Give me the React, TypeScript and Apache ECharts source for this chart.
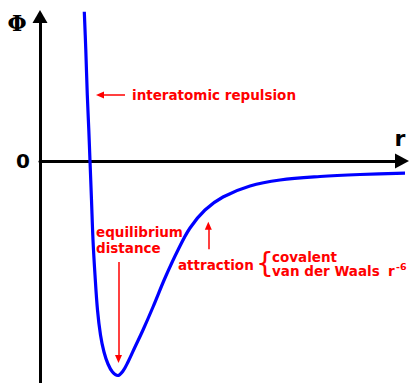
import React, { useEffect, useRef } from "react";
import * as echarts from "echarts";

// Potential curve Φ(r) (r and Φ in arbitrary units)
const rValues = [0.443, 0.458, 0.473, 0.488, 0.5, 0.515, 0.53, 0.55, 0.575, 0.605, 0.64, 0.68, 0.725, 0.777, 0.83, 0.88, 0.95, 1.03, 1.13, 1.25, 1.38, 1.5, 1.65, 1.83, 2.1, 2.4, 2.8, 3.2, 3.69];
const phiValues = [1.493, 1.11, 0.66, 0.31, 0, -0.39, -0.79, -1.14, -1.49, -1.74, -1.91, -2.03, -2.11, -2.145, -2.1, -2.01, -1.86, -1.69, -1.46, -1.17, -0.89, -0.67, -0.49, -0.36, -0.25, -0.19, -0.155, -0.135, -0.12];

// Annotation arrows [fromR, fromPhi, toR, toPhi]
const arrowRepulsion = [0.85, 0.66, 0.6, 0.66];
const arrowEquilibrium = [0.785, -1.01, 0.785, -1.98];
const arrowAttraction = [1.683, -0.883, 1.683, -0.647];

const axisLabels = { y: "Φ", x: "r", zero: "0" };
const annotationTexts = {
  repulsion: "interatomic repulsion",
  eq1: "equilibrium",
  eq2: "distance",
  attraction: "attraction",
  covalent: "covalent",
  vdw: "van der Waals",
  r: "r",
  exp: "-6",
};

export default function App() {
  const ref = useRef<HTMLDivElement>(null);
  useEffect(() => {
    document.body.style.margin = "0";
    if (!ref.current) return;
    const chart = echarts.init(ref.current, undefined, { renderer: "svg" });
    const red = "#ff0000";
    const font = "DejaVu Sans";
    const txt = (text: string, x: number, y: number, extra: any = {}) => ({
      type: "text",
      x,
      y,
      silent: true,
      style: {
        text,
        fill: red,
        fontFamily: font,
        fontWeight: "bold",
        fontSize: 13.5,
        verticalAlign: "middle",
        align: "left",
        ...extra,
      },
    });
    const arrowLine = (a: number[]) => [
      { coord: [a[0], a[1]] },
      { coord: [a[2], a[3]] },
    ];
    chart.setOption({
      animation: false,
      grid: { left: 40, right: 7, top: 16.5, bottom: 0, containLabel: false },
      xAxis: {
        type: "value",
        min: 0,
        max: 3.62,
        axisLine: {
          onZero: true,
          symbol: ["none", "triangle"],
          symbolSize: [15, 14],
          lineStyle: { color: "#000", width: 3 },
        },
        axisTick: { show: false },
        axisLabel: { show: false },
        splitLine: { show: false },
      },
      yAxis: {
        type: "value",
        min: -2.22,
        max: 1.445,
        axisLine: {
          show: true,
          onZero: false,
          symbol: ["none", "triangle"],
          symbolSize: [15, 13],
          lineStyle: { color: "#000", width: 3 },
        },
        axisTick: { show: false },
        axisLabel: { show: false },
        splitLine: { show: false },
      },
      series: [
        {
          type: "line",
          data: rValues.map((r, i) => [r, phiValues[i]]),
          smooth: 0.35,
          showSymbol: false,
          clip: false,
          lineStyle: { color: "#0000ff", width: 3.2 },
          markLine: {
            silent: true,
            symbol: ["none", "triangle"],
            symbolSize: [7, 8],
            label: { show: false },
            lineStyle: { color: red, width: 1.5, type: "solid" },
            data: [
              arrowLine(arrowRepulsion),
              arrowLine(arrowEquilibrium),
              arrowLine(arrowAttraction),
            ],
          },
        },
      ],
      graphic: [
        {
          type: "text",
          x: 17,
          y: 23,
          silent: true,
          style: {
            text: axisLabels.y,
            fill: "#000",
            fontFamily: "DejaVu Serif",
            fontWeight: "bold",
            fontSize: 22,
            align: "center",
            verticalAlign: "middle",
          },
        },
        {
          type: "text",
          x: 23,
          y: 161,
          silent: true,
          style: {
            text: axisLabels.zero,
            fill: "#000",
            fontFamily: font,
            fontWeight: "bold",
            fontSize: 20,
            align: "center",
            verticalAlign: "middle",
          },
        },
        {
          type: "text",
          x: 400,
          y: 138,
          silent: true,
          style: {
            text: axisLabels.x,
            fill: "#000",
            fontFamily: font,
            fontWeight: "bold",
            fontSize: 22,
            align: "center",
            verticalAlign: "middle",
          },
        },
        txt(annotationTexts.repulsion, 132, 94.5),
        txt(annotationTexts.eq1, 96, 231.5),
        txt(annotationTexts.eq2, 96, 248),
        txt(annotationTexts.attraction, 178, 265),
        {
          type: "text",
          x: 256,
          y: 263,
          silent: true,
          style: {
            text: "{",
            fill: red,
            fontFamily: font,
            fontWeight: "normal",
            fontSize: 28,
            align: "left",
            verticalAlign: "middle",
          },
        },
        txt(annotationTexts.covalent, 272, 256.5),
        txt(annotationTexts.vdw, 272, 271),
        txt(annotationTexts.r, 388, 271),
        txt(annotationTexts.exp, 396, 266, { fontSize: 9.5 }),
      ],
    });
    return () => chart.dispose();
  }, []);
  return <div ref={ref} style={{ width: 409, height: 383 }} />;
}
